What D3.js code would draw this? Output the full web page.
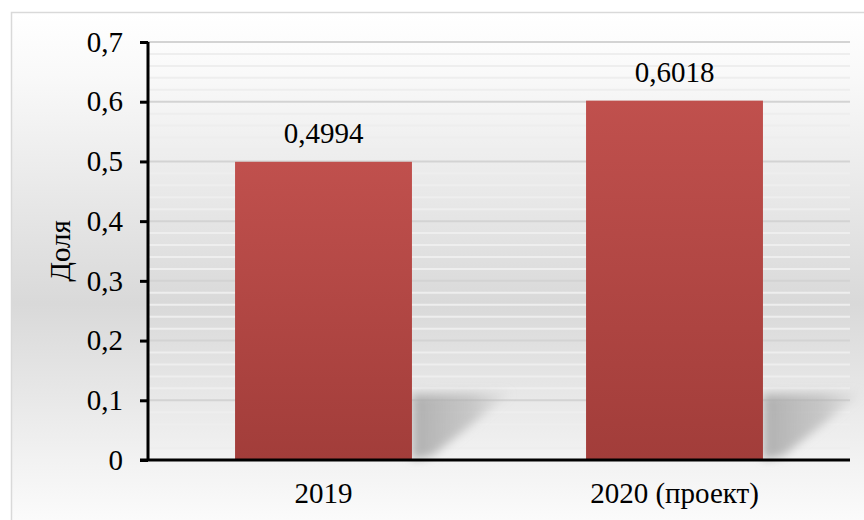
<!DOCTYPE html>
<html>
<head>
<meta charset="utf-8">
<script src="https://cdn.jsdelivr.net/npm/d3@7"></script>
</head>
<body style="margin:0">
<svg id="chart" width="864" height="520" font-family="Liberation Serif"></svg>
<script>
// Share by year
const categories = ["2019", "2020 (проект)"];
const values = [0.4994, 0.6018];
const valueLabels = ["0,4994", "0,6018"];
const yTicks = [0, 0.1, 0.2, 0.3, 0.4, 0.5, 0.6, 0.7];
const yTickLabels = ["0", "0,1", "0,2", "0,3", "0,4", "0,5", "0,6", "0,7"];
const yMinorTicks = d3.range(0, 0.7001, 0.02);
const yTitle = "Доля";

const FONT = "Liberation Serif";
const FS = 29;
const W = 864, H = 520;
const margin = { left: 148, right: 14, top: 42, bottom: 60 };
const plotRight = W - margin.right;
const plotBottom = H - margin.bottom;

const svg = d3.select("#chart");
const defs = svg.append("defs");

// Chart area background: vertical light-grey gradient
const bg = defs.append("linearGradient").attr("id", "bgGrad")
  .attr("x1", 0).attr("y1", 0).attr("x2", 0).attr("y2", 1);
[[0, "#ffffff"], [0.12, "#f9f9f9"], [0.56, "#d9d9d9"], [0.85, "#f1f1f1"], [1, "#fdfdfd"]]
  .forEach(([o, c]) => bg.append("stop").attr("offset", o).attr("stop-color", c));

// Bar fill gradient
const barGrad = defs.append("linearGradient").attr("id", "barGrad")
  .attr("x1", 0).attr("y1", 0).attr("x2", 0).attr("y2", 1);
barGrad.append("stop").attr("offset", 0).attr("stop-color", "#c0504d");
barGrad.append("stop").attr("offset", 1).attr("stop-color", "#a23d3a");

// Soft cast shadow: darkest next to the bar, fading to the right
const shGrad = defs.append("linearGradient").attr("id", "shadowGrad")
  .attr("x1", 0).attr("y1", 0).attr("x2", 1).attr("y2", 0);
shGrad.append("stop").attr("offset", 0).attr("stop-color", "#a9a9a9").attr("stop-opacity", 0.9);
shGrad.append("stop").attr("offset", 0.6).attr("stop-color", "#b0b0b0").attr("stop-opacity", 0.6);
shGrad.append("stop").attr("offset", 1).attr("stop-color", "#c0c0c0").attr("stop-opacity", 0.1);
const blur = defs.append("filter").attr("id", "shadowBlur")
  .attr("x", "-30%").attr("y", "-30%").attr("width", "160%").attr("height", "160%");
blur.append("feGaussianBlur").attr("stdDeviation", 5);

svg.append("rect")
  .attr("x", 11.5).attr("y", 12.5)
  .attr("width", W).attr("height", H)
  .attr("fill", "url(#bgGrad)")
  .attr("stroke", "#d9d9d9").attr("stroke-width", 1.5);

const x = d3.scaleBand().domain(categories)
  .range([margin.left, plotRight]).paddingInner(0.496).paddingOuter(0.248);
const y = d3.scaleLinear().domain([0, 0.7]).range([plotBottom, margin.top]);

// Minor gridlines
svg.append("g").selectAll("line")
  .data(yMinorTicks.filter(v => Math.abs(v * 10 - Math.round(v * 10)) > 1e-6))
  .join("line")
  .attr("x1", margin.left).attr("x2", plotRight)
  .attr("y1", d => y(d)).attr("y2", d => y(d))
  .attr("stroke", "#eeeeee").attr("stroke-width", 2);

// Major gridlines
svg.append("g").selectAll("line")
  .data(yTicks.slice(1))
  .join("line")
  .attr("x1", margin.left).attr("x2", plotRight)
  .attr("y1", d => y(d)).attr("y2", d => y(d))
  .attr("stroke", "#d3d3d3").attr("stroke-width", 2);

// Shadows cast to the right of each bar
const shadowTop = y(0.11), shadowBottom = y(0);
svg.append("g").selectAll("path")
  .data(categories)
  .join("path")
  .attr("d", d => {
    const r = x(d) + x.bandwidth();
    return `M${r},${shadowTop} L${r + 100},${shadowTop - 2} L${r + 20},${shadowBottom - 4} L${r},${shadowBottom} Z`;
  })
  .attr("fill", "url(#shadowGrad)")
  .attr("filter", "url(#shadowBlur)");

// Bars
svg.append("g").selectAll("rect")
  .data(values)
  .join("rect")
  .attr("x", (d, i) => x(categories[i]))
  .attr("y", d => y(d))
  .attr("width", x.bandwidth())
  .attr("height", d => y(0) - y(d))
  .attr("fill", "url(#barGrad)");

// Value labels
svg.append("g").selectAll("text")
  .data(values)
  .join("text")
  .attr("x", (d, i) => x(categories[i]) + x.bandwidth() / 2)
  .attr("y", d => y(d) - 19)
  .attr("text-anchor", "middle")
  .attr("fill", "#000")
  .attr("font-family", FONT)
  .attr("font-size", FS)
  .text((d, i) => valueLabels[i]);

// Y axis
const yAxis = d3.axisLeft(y).tickValues(yTicks)
  .tickFormat((d, i) => yTickLabels[i]).tickSize(8).tickPadding(17);
const gy = svg.append("g").attr("transform", `translate(${margin.left},0)`).call(yAxis)
  .attr("font-family", FONT).attr("font-size", FS);
gy.select(".domain").attr("stroke", "#000").attr("stroke-width", 3)
  .attr("d", `M0,${y(0.7)}V${y(0)}`);
gy.selectAll(".tick line").attr("stroke", "#000").attr("stroke-width", 3);
gy.selectAll(".tick text").attr("fill", "#000");

// X axis
const xAxis = d3.axisBottom(x).tickSize(0).tickPadding(22);
const gx = svg.append("g").attr("transform", `translate(0,${plotBottom})`).call(xAxis)
  .attr("font-family", FONT).attr("font-size", FS);
gx.select(".domain").attr("stroke", "#000").attr("stroke-width", 3)
  .attr("d", `M${margin.left - 8},0H${plotRight}`);
gx.selectAll(".tick text").attr("fill", "#000");

// Y axis title
svg.append("text")
  .attr("transform", `translate(70,${(y(0) + y(0.7)) / 2}) rotate(-90)`)
  .attr("text-anchor", "middle")
  .attr("fill", "#000")
  .attr("font-family", FONT)
  .attr("font-size", FS)
  .text(yTitle);
</script>
</body>
</html>
